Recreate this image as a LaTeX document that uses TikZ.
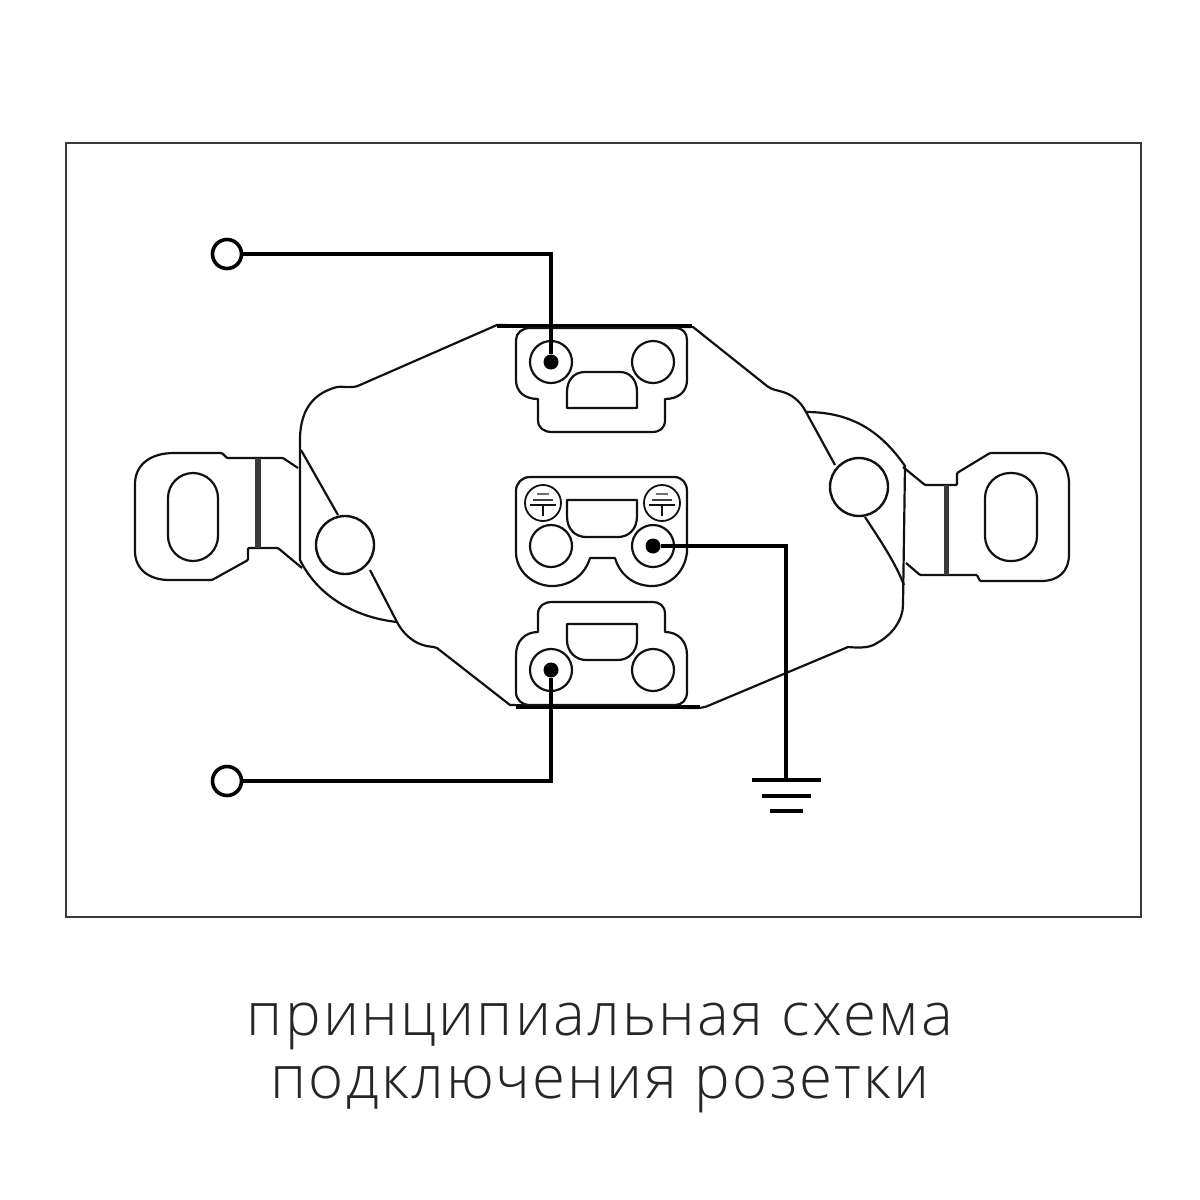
\documentclass[tikz,border=0pt]{standalone}
\usepackage{fontspec}
\setmainfont{Open Sans Light}[LetterSpace=3.8]
\definecolor{ink}{HTML}{111111}
\definecolor{framec}{HTML}{3A3A3A}
\tikzset{
  part/.style={draw=ink,line width=2.2pt,line join=round},
  wire/.style={draw=black,line width=3.6pt},
  hole/.style={circle,draw=ink,line width=2.2pt,minimum size=42pt,inner sep=0pt},
  screw/.style={circle,draw=ink,line width=2.4pt,minimum size=58pt,inner sep=0pt},
  earthmark/.style={circle,draw=ink,line width=1.8pt,minimum size=36pt,inner sep=0pt},
  dot/.style={circle,fill=black,minimum size=15pt,inner sep=0pt},
  term/.style={circle,draw=black,line width=3.6pt,fill=white,minimum size=29pt,inner sep=0pt},
  bar/.style={draw=framec,line width=5.5pt}
}
\begin{document}
\begin{tikzpicture}[x=1pt,y=-1pt]
\useasboundingbox (0,0) rectangle (1200,1200);
\draw[draw=framec,line width=2.8pt] (66,143) rectangle (1141,917);

% body
\draw[part] (497,325) -- (360,385) .. controls (352,389) and (345,386) .. (337,387)
  .. controls (318,392) and (300,405) .. (300,440) -- (300,560)
  .. controls (320,600) and (360,618) .. (397,622)
  .. controls (402,632) and (412,642) .. (423,645) .. controls (428,647) and (432,646) .. (437,648)
  -- (510,705) -- (690,708) .. controls (700,708) and (704,708) .. (710,705)
  -- (848,647) .. controls (860,648) and (870,648) .. (877,643)
  .. controls (892,635) and (903,620) .. (903,605)
  -- (905,466) .. controls (880,430) and (850,412) .. (806,412)
  .. controls (800,400) and (790,394) .. (783,392) .. controls (777,390) and (772,390) .. (767,386)
  -- (693,327) -- cycle;
\draw[draw=black,line width=4pt] (497,326) -- (692,326);
\draw[draw=black,line width=3.4pt] (516,707) -- (700,707);
\draw[part] (301,450) -- (338,515);
\draw[part] (370,570) -- (397,622);
\draw[part] (806,412) -- (835,465);
\draw[part] (865,517) .. controls (880,540) and (895,562) .. (904,585);

% ears
\draw[part,rounded corners=1pt] (298,468) -- (283,458) -- (227,458) -- (222,453) -- (175,453)
  .. controls (150,453) and (135,465) .. (135,485) -- (135,550)
  .. controls (135,570) and (150,580) .. (170,580) -- (212,580) -- (248,560) -- (248,548) -- (278,548) -- (302,568);
\draw[part,rounded corners=25pt] (168,473) rectangle (218,561);
\draw[bar] (258,458) -- (258,548);
\draw[part,rounded corners=1pt] (903,467) -- (925,485) -- (957,485) -- (957,473) -- (990,453) -- (1040,453)
  .. controls (1058,453) and (1069,465) .. (1069,485) -- (1069,553)
  .. controls (1069,572) and (1058,581) .. (1040,581) -- (980,581) -- (977,575) -- (920,575) -- (906,563);
\draw[part,rounded corners=25pt] (985,473) rectangle (1037,561);
\draw[bar,line width=5pt] (946,485) -- (946,575);

% top contact
\draw[part] (530,328) -- (675,328) .. controls (683,328) and (687,333) .. (687,340) -- (687,380)
  .. controls (687,392) and (678,399) .. (665,399) -- (665,420)
  .. controls (665,428) and (660,432) .. (652,432) -- (552,432)
  .. controls (544,432) and (538,428) .. (538,420) -- (538,399)
  .. controls (525,399) and (516,392) .. (516,380) -- (516,340)
  .. controls (516,333) and (522,328) .. (530,328) -- cycle;
\draw[part] (567,408) -- (567,392) .. controls (567,380) and (574,372) .. (585,372) -- (620,372)
  .. controls (630,372) and (637,380) .. (637,392) -- (637,408) -- cycle;

% middle contact
\draw[part] (530,477) -- (674,477) .. controls (682,477) and (687,483) .. (687,491) -- (687,552)
  .. controls (685,572) and (670,586) .. (652,586) .. controls (634,586) and (620,575) .. (615,558)
  -- (590,558) .. controls (585,575) and (570,586) .. (552,586) .. controls (534,586) and (516,572) .. (516,552)
  -- (516,491) .. controls (516,483) and (522,477) .. (530,477) -- cycle;
\draw[part] (567,500) -- (637,500) -- (637,516) .. controls (637,530) and (628,537) .. (618,537) -- (586,537)
  .. controls (576,537) and (567,530) .. (567,516) -- cycle;

% bottom contact
\draw[part] (552,602) -- (652,602) .. controls (660,602) and (665,606) .. (665,614) -- (665,632)
  .. controls (678,632) and (687,641) .. (687,655) -- (687,692)
  .. controls (687,700) and (682,705) .. (675,705) -- (530,705)
  .. controls (522,705) and (516,700) .. (516,692) -- (516,655)
  .. controls (516,641) and (525,632) .. (538,632) -- (538,614)
  .. controls (538,606) and (544,602) .. (552,602) -- cycle;
\draw[part] (567,624) -- (637,624) -- (637,640) .. controls (637,652) and (628,660) .. (618,660) -- (586,660)
  .. controls (576,660) and (567,652) .. (567,640) -- cycle;

% holes
\node[hole] (h1) at (551,362) {};
\node[hole] (h2) at (653,362) {};
\node[hole] (h3) at (551,546) {};
\node[hole] (h4) at (653,546) {};
\node[hole] (h5) at (551,670) {};
\node[hole] (h6) at (653,670) {};
\node[screw] (s1) at (345,545) {};
\node[screw] (s2) at (859,487) {};

% earth marks
\foreach \n/\cx in {e1/543,e2/662}{
  \node[earthmark] (\n) at (\cx,503) {};
  \draw[draw=ink,line width=1.8pt] (\cx-13,505) -- (\cx+13,505) (\cx,505) -- (\cx,516);
  \draw[draw=ink!80,line width=2pt] (\cx-10,500) -- (\cx+10,500);
  \draw[draw=ink!60,line width=1.5pt] (\cx-6,494) -- (\cx+6,494);
}

% wires
\node[term] (t1) at (227,254) {};
\node[term] (t2) at (227,781) {};
\node[dot] (d1) at (551,362) {};
\node[dot] (d2) at (653,546) {};
\node[dot] (d3) at (551,670) {};
\coordinate (g) at (786,780);
\draw[wire] (t1) -- (551,254) -- (d1);
\draw[wire] (t2) -- (551,781) -- (d3);
\draw[wire] (d2) -- (786,546) -- (g);

% ground
\coordinate (g1a) at (752,780); \coordinate (g1b) at (821,780);
\coordinate (g2a) at (762,796); \coordinate (g2b) at (811,796);
\coordinate (g3a) at (770,811); \coordinate (g3b) at (803,811);
\draw[wire] (g1a) -- (g1b);
\draw[wire] (g2a) -- (g2b);
\draw[wire] (g3a) -- (g3b);

\node[text=black!85,font=\fontsize{60}{63.5}\selectfont,align=center,anchor=center] (cap) at (600,1058)
  {принципиальная схема\\подключения розетки};
\end{tikzpicture}
\end{document}
